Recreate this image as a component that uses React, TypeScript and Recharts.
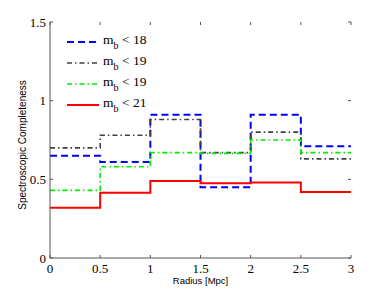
import React from "react";
import { LineChart, Line, XAxis, YAxis, Legend } from "recharts";

const radius = [0, 0.5, 1, 1.5, 2, 2.5, 3];
const mb18 = [0.65, 0.61, 0.91, 0.45, 0.91, 0.71];
const mb19a = [0.7, 0.78, 0.88, 0.67, 0.8, 0.63];
const mb19b = [0.43, 0.58, 0.67, 0.665, 0.75, 0.67];
const mb21 = [0.32, 0.415, 0.49, 0.475, 0.48, 0.42];
const xTicks = [0, 0.5, 1, 1.5, 2, 2.5, 3];
const yTicks = [0, 0.5, 1, 1.5];

const series = [
  { key: "s18", label: "18", values: mb18, color: "#0000ff", dash: "7 4", width: 2 },
  { key: "s19a", label: "19", values: mb19a, color: "#404040", dash: "5 3 1.5 3", width: 1.6 },
  { key: "s19b", label: "19", values: mb19b, color: "#00ee00", dash: "5 3 1.5 3", width: 1.6 },
  { key: "s21", label: "21", values: mb21, color: "#ff0000", dash: undefined as string | undefined, width: 2 },
];

const data = radius.map((r, i) => {
  const row: Record<string, number> = { r };
  series.forEach((s) => {
    row[s.key] = s.values[Math.min(i, s.values.length - 1)];
  });
  return row;
});

const W = 387;
const H = 291;
const LEFT = 50;
const TOP = 22;
const RIGHT = 351;
const BOTTOM = 258;
const AXIS = "#555";
const serifStyle = { fontFamily: "'Liberation Serif', 'DejaVu Serif', serif" };
const sansStyle = { fontFamily: "'Liberation Sans', Arial, sans-serif" };

const XTick = (props: any) => {
  const { x, y, payload } = props;
  return (
    <g>
      <line x1={x} x2={x} y1={BOTTOM} y2={BOTTOM - 3} stroke={AXIS} />
      <line x1={x} x2={x} y1={TOP} y2={TOP + 3} stroke={AXIS} />
      <text x={x} y={y + 15} textAnchor="middle" style={serifStyle} fontSize={13} fill="#000">
        {payload.value}
      </text>
    </g>
  );
};

const YTick = (props: any) => {
  const { x, y, payload } = props;
  return (
    <g>
      <line x1={LEFT} x2={LEFT + 3} y1={y} y2={y} stroke={AXIS} />
      <line x1={RIGHT} x2={RIGHT - 3} y1={y} y2={y} stroke={AXIS} />
      <text x={x - 4} y={y + 4.5} textAnchor="end" style={serifStyle} fontSize={13} fill="#000">
        {payload.value}
      </text>
    </g>
  );
};

const LegendContent = () => (
  <svg width={110} height={90} style={{ display: "block" }}>
    {series.map((s, i) => {
      const cy = 12 + i * 21;
      return (
        <g key={s.key}>
          <line x1={7} x2={39} y1={cy} y2={cy} stroke={s.color} strokeWidth={s.width} strokeDasharray={s.dash} />
          <text x={43} y={cy + 1.5} style={serifStyle} fontSize={13.5} fill="#000">
            m
            <tspan fontSize={10} dy={5}>b</tspan>
            <tspan dy={-5}>{" < " + s.label}</tspan>
          </text>
        </g>
      );
    })}
  </svg>
);

export default function App() {
  return (
    <div style={{ position: "absolute", left: 0, top: 0, width: W, height: H, background: "#fff" }}>
      <LineChart width={W} height={H} data={data} margin={{ top: TOP, right: W - RIGHT, bottom: 0, left: 0 }}>
        <XAxis
          dataKey="r"
          type="number"
          domain={[0, 3]}
          ticks={xTicks}
          height={H - BOTTOM}
          tickSize={0}
          tickMargin={0}
          tick={<XTick />}
          stroke={AXIS}
          interval={0}
          label={{ value: "Radius [Mpc]", position: "insideBottom", offset: 7, style: sansStyle, fontSize: 9.5, fill: "#000" }}
        />
        <XAxis xAxisId="top" orientation="top" dataKey="r" type="number" domain={[0, 3]} height={0} tick={false} tickLine={false} stroke={AXIS} />
        <YAxis
          type="number"
          domain={[0, 1.5]}
          ticks={yTicks}
          width={LEFT}
          tickSize={0}
          tickMargin={0}
          tick={<YTick />}
          stroke={AXIS}
          interval={0}
          label={{
            content: () => (
              <text
                x={22}
                y={145}
                transform="rotate(-90 22 145)"
                textAnchor="middle"
                dominantBaseline="central"
                style={sansStyle}
                fontSize={10}
                fill="#000"
              >
                Spectroscopic Completeness
              </text>
            ),
          }}
        />
        <YAxis yAxisId="right" orientation="right" domain={[0, 1.5]} width={0} tick={false} tickLine={false} stroke={AXIS} />
        <Legend
          layout="horizontal"
          verticalAlign="middle"
          align="center"
          content={<LegendContent />}
          wrapperStyle={{ position: "absolute", left: 60, top: 30, width: 110, height: 90 }}
        />
        {series.map((s) => (
          <Line
            key={s.key}
            dataKey={s.key}
            type="stepAfter"
            stroke={s.color}
            strokeWidth={s.width}
            strokeDasharray={s.dash}
            dot={false}
            activeDot={false}
            isAnimationActive={false}
          />
        ))}
      </LineChart>
    </div>
  );
}
